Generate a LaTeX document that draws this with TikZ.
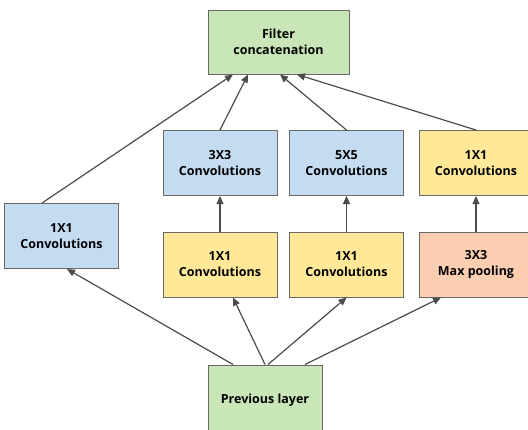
\documentclass[tikz,border=0pt]{standalone}
\usepackage{fontspec}
\setmainfont{Open Sans}
\definecolor{concatgreen}{RGB}{200,230,183}
\definecolor{convblue}{RGB}{196,220,242}
\definecolor{convyellow}{RGB}{255,233,153}
\definecolor{poolsalmon}{RGB}{251,206,178}
\definecolor{edgegray}{RGB}{105,105,105}
\definecolor{arrowgray}{RGB}{75,75,75}
\usetikzlibrary{arrows.meta,positioning,calc}

\tikzset{
    layerbox/.style={draw=edgegray, line width=1pt, align=center, inner sep=2pt,
        minimum width=114pt, minimum height=65pt,
        font=\bfseries\fontsize{12.5}{16}\selectfont},
    flowarrow/.style={draw=arrowgray, line width=1.2pt, -{Triangle[length=8pt,width=7pt]}}
}

\begin{document}
\begin{tikzpicture}[x=1pt,y=-1pt]
    \useasboundingbox (0,0) rectangle (528,429);

    % output
    \node[layerbox, fill=concatgreen, minimum width=141pt, minimum height=64pt] (concat) at (278.5,42) {Filter\\concatenation};

    % upper row
    \node[layerbox, fill=convblue] (convleft) at (61.5,236) {1X1\\Convolutions};
    \node[layerbox, fill=convblue] (convthree) at (220,163) {3X3\\Convolutions};
    \node[layerbox, fill=convblue] (convfive) at (346.5,163) {5X5\\Convolutions};
    \node[layerbox, fill=convyellow] (convpool) at (476,163) {1X1\\Convolutions};

    % lower row
    \node[layerbox, fill=convyellow] (reducethree) at (220,264.5) {1X1\\Convolutions};
    \node[layerbox, fill=convyellow] (reducefive) at (346.5,264.5) {1X1\\Convolutions};
    \node[layerbox, fill=poolsalmon] (maxpool) at (476,264.5) {3X3\\Max pooling};

    % input
    \node[layerbox, fill=concatgreen, minimum height=70pt] (prev) at (265,400) {Previous layer};

    % into the branches
    \draw[flowarrow] ([xshift=-32pt]prev.north) -- ([xshift=5.5pt]convleft.south);
    \draw[flowarrow] (prev.north) -- ([xshift=13pt]reducethree.south);
    \draw[flowarrow] ([xshift=3pt]prev.north) -- (reducefive.south);
    \draw[flowarrow] ([xshift=40pt]prev.north) -- ([xshift=-35pt]maxpool.south);

    \draw[flowarrow] (reducethree) -- (convthree);
    \draw[flowarrow] (reducefive) -- (convfive);
    \draw[flowarrow] (maxpool) -- (convpool);

    % into the concatenation
    \draw[flowarrow] ([xshift=-19.5pt]convleft.north) -- ([xshift=-45.5pt]concat.south);
    \draw[flowarrow] (convthree.north) -- ([xshift=-30.5pt]concat.south);
    \draw[flowarrow] (convfive.north) -- ([xshift=1.5pt]concat.south);
    \draw[flowarrow] (convpool.north) -- ([xshift=18.5pt]concat.south);
\end{tikzpicture}
\end{document}
